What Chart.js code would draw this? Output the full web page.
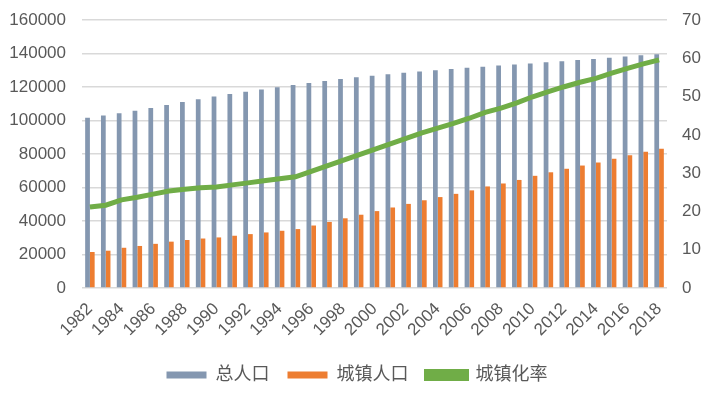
<!DOCTYPE html>
<html>
<head>
<meta charset="utf-8">
<script src="https://cdn.jsdelivr.net/npm/chart.js@4"></script>
<style>
  html, body { margin: 0; padding: 0; background: #fff; }
  #wrap { width: 714px; height: 400px; }
</style>
</head>
<body>
<div id="wrap"><canvas id="c" width="714" height="400"></canvas></div>
<script>
// 1982–2018, 万人 / %
const years = ['1982','1983','1984','1985','1986','1987','1988','1989','1990','1991',
  '1992','1993','1994','1995','1996','1997','1998','1999','2000','2001','2002','2003',
  '2004','2005','2006','2007','2008','2009','2010','2011','2012','2013','2014','2015',
  '2016','2017','2018'];

const totalPop = [101654, 103008, 104357, 105851, 107507, 109300, 111026, 112704, 114333,
  115823, 117171, 118517, 119850, 121121, 122389, 123626, 124761, 125786, 126743, 127627,
  128453, 129227, 129988, 130756, 131448, 132129, 132802, 133450, 134091, 134735, 135404,
  136072, 136782, 137462, 138271, 139008, 139538];

const urbanPop = [21480, 22274, 24017, 25094, 26366, 27674, 28661, 29540, 30195, 31203,
  32175, 33173, 34169, 35174, 37304, 39449, 41608, 43748, 45906, 48064, 50212, 52376,
  54283, 56212, 58288, 60633, 62403, 64512, 66978, 69079, 71182, 73111, 74916, 77116,
  79298, 81347, 83137];

const urbanRate = [21.13, 21.62, 23.01, 23.71, 24.52, 25.32, 25.81, 26.21, 26.41, 26.94,
  27.46, 27.99, 28.51, 29.04, 30.48, 31.91, 33.35, 34.78, 36.22, 37.66, 39.09, 40.53,
  41.76, 42.99, 44.34, 45.89, 46.99, 48.34, 49.95, 51.27, 52.57, 53.73, 54.77, 56.10,
  57.35, 58.52, 59.58];

const seriesNames = ['总人口', '城镇人口', '城镇化率'];

const FONT = "'Liberation Sans', 'Noto Sans CJK SC', sans-serif";
const TXT = '#595959';
const GRID = '#D9D9D9';

// fixed axis boxes so the plot area sits where the original has it
function pinY(width) {
  return s => { s.width = width; s.paddingTop = 0; s.paddingBottom = 0; };
}

new Chart(document.getElementById('c'), {
  type: 'bar',
  data: {
    labels: years,
    datasets: [
      {
        label: seriesNames[0],
        data: totalPop,
        backgroundColor: '#8497B0',
        yAxisID: 'y',
        categoryPercentage: 0.6,
        barPercentage: 1.0,
        order: 1,
      },
      {
        label: seriesNames[1],
        data: urbanPop,
        backgroundColor: '#ED7D31',
        yAxisID: 'y',
        categoryPercentage: 0.6,
        barPercentage: 1.0,
        order: 1,
      },
      {
        type: 'line',
        label: seriesNames[2],
        data: urbanRate,
        borderColor: '#70AD47',
        backgroundColor: '#70AD47',
        borderWidth: 5,
        pointRadius: 0,
        tension: 0,
        yAxisID: 'y1',
        order: 0,
      },
    ],
  },
  options: {
    responsive: false,
    animation: false,
    layout: { padding: { top: 20, left: 0, right: 0, bottom: 6 } },
    plugins: {
      legend: {
        position: 'bottom',
        labels: {
          boxWidth: 40,
          boxHeight: 7,
          color: TXT,
          padding: 18,
          font: { size: 18, family: FONT },
          sort: (a, b) => a.datasetIndex - b.datasetIndex,
        },
      },
      tooltip: { enabled: false },
    },
    scales: {
      x: {
        grid: { display: false },
        border: { display: false },
        // rotated year labels may hang past the plot edges, like the original
        afterFit: s => { s.paddingLeft = 0; s.paddingRight = 0; s.height = 60; },
        ticks: {
          color: TXT,
          font: { size: 17, family: FONT },
          autoSkip: false,
          minRotation: 45,
          maxRotation: 45,
          callback: (v, i) => (i % 2 === 0 ? years[i] : ''),
        },
      },
      y: {
        position: 'left',
        min: 0,
        max: 160000,
        border: { display: false },
        grid: { color: GRID, lineWidth: 1.5, drawTicks: false },
        afterFit: pinY(82),
        ticks: {
          stepSize: 20000,
          color: TXT,
          padding: 16,
          font: { size: 17, family: FONT },
          callback: v => String(v),
        },
      },
      y1: {
        position: 'right',
        min: 0,
        max: 70,
        border: { display: false },
        grid: { display: false, drawTicks: false },
        afterFit: pinY(47),
        ticks: {
          stepSize: 10,
          color: TXT,
          padding: 15,
          font: { size: 17, family: FONT },
        },
      },
    },
  },
});
</script>
</body>
</html>
